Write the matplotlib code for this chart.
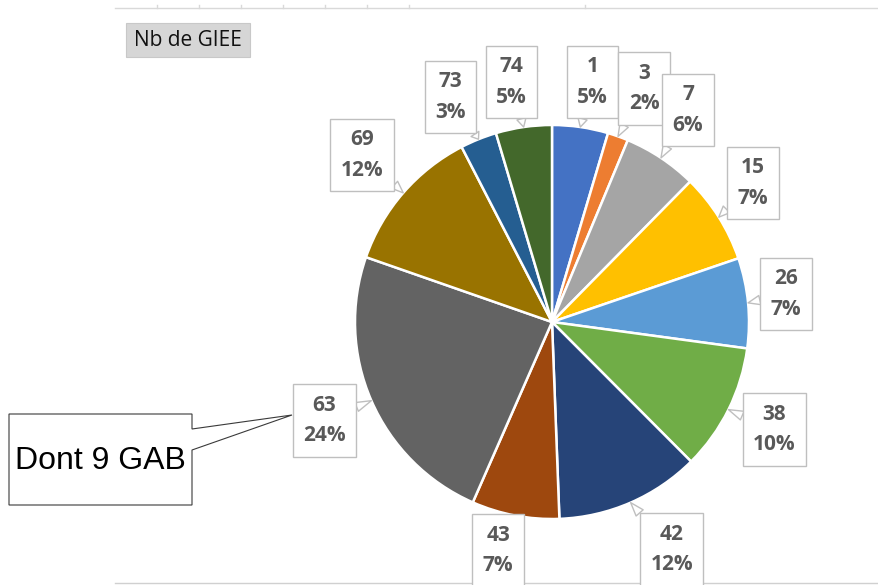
import numpy as np
import matplotlib
matplotlib.use("Agg")
import matplotlib.pyplot as plt
from matplotlib.patches import Polygon, Rectangle

# slices, clockwise from 12 o'clock
categories = ["1", "3", "7", "15", "26", "38", "42", "43", "63", "69", "73", "74"]
shares = [4.6, 1.7, 6.1, 7.4, 7.4, 10.4, 11.9, 7.2, 23.8, 12.1, 3.0, 4.6]
colors = ["#4472C4", "#ED7D31", "#A5A5A5", "#FFC000", "#5B9BD5", "#70AD47",
          "#264478", "#9E480E", "#636363", "#997300", "#255E91", "#43682B"]

# where each callout box sits relative to its rim point (pixels, y down)
label_offsets = [(12, -45), (26, -48), (27, -48), (34, -34), (38, -9), (46, 20),
                 (41, 47), (-17, 35), (-47, 20), (-41, -38), (-28, -42), (-12, -45)]

field_button = "Nb de GIEE"
note_text = "Dont 9 GAB"
axis_ticks = [157, 199, 241, 283, 325, 367, 409, 585]

W, H = 879, 585
fig = plt.figure(figsize=(W / 100, H / 100), dpi=100)
ax = fig.add_axes([0, 0, 1, 1])

cx, cy, R = 552, 322, 197
wedges, _ = ax.pie(shares, colors=colors, startangle=-90, counterclock=True,
                   center=(cx, cy), radius=R,
                   wedgeprops=dict(edgecolor="white", linewidth=1.8))
ax.set_xlim(0, W)
ax.set_ylim(H, 0)
ax.set_aspect("auto")
ax.axis("off")

total = sum(shares)
for w, cat, v, (dx, dy) in zip(wedges, categories, shares, label_offsets):
    mid = np.deg2rad((w.theta1 + w.theta2) / 2)
    tx = cx + R * np.cos(mid)
    ty = cy + R * np.sin(mid)
    pct = int(round(v / total * 100))
    ax.annotate(f"{cat}\n{pct}%", xy=(tx, ty), xytext=(tx + dx, ty + dy),
                ha="center", va="center", fontsize=15, fontweight="bold",
                family="Open Sans", color="#595959", linespacing=1.6,
                bbox=dict(boxstyle="square,pad=0.5", fc="white", ec="#bfbfbf", lw=1),
                arrowprops=dict(arrowstyle="wedge,tail_width=0.45", fc="white",
                                ec="#bfbfbf", lw=1, shrinkA=0, shrinkB=0))

# field button top left
ax.add_patch(Rectangle((126, 23), 124, 34, fc="#d6d6d6", ec="#c8c8c8", lw=0.8))
ax.text(188, 40.5, field_button, ha="center", va="center", fontsize=15,
        family="Open Sans", color="#111111")

# faint axis lines at top and bottom
ax.plot([115, W], [8, 8], color="#d9d9d9", lw=1)
for x in axis_ticks:
    ax.plot([x, x], [8, 5], color="#d9d9d9", lw=1)
ax.plot([115, W], [583, 583], color="#d0d0d0", lw=1)

# hand-drawn note callout
note = Polygon([(9, 414), (192, 414), (192, 429), (292, 415), (192, 450),
                (192, 505), (9, 505)], closed=True, fc="white", ec="#3a3a3a", lw=0.8)
ax.add_patch(note)
ax.text(100, 461, note_text, ha="center", va="center", fontsize=23,
        family="Liberation Sans", color="black")

fig.savefig("out.png", dpi=100)
